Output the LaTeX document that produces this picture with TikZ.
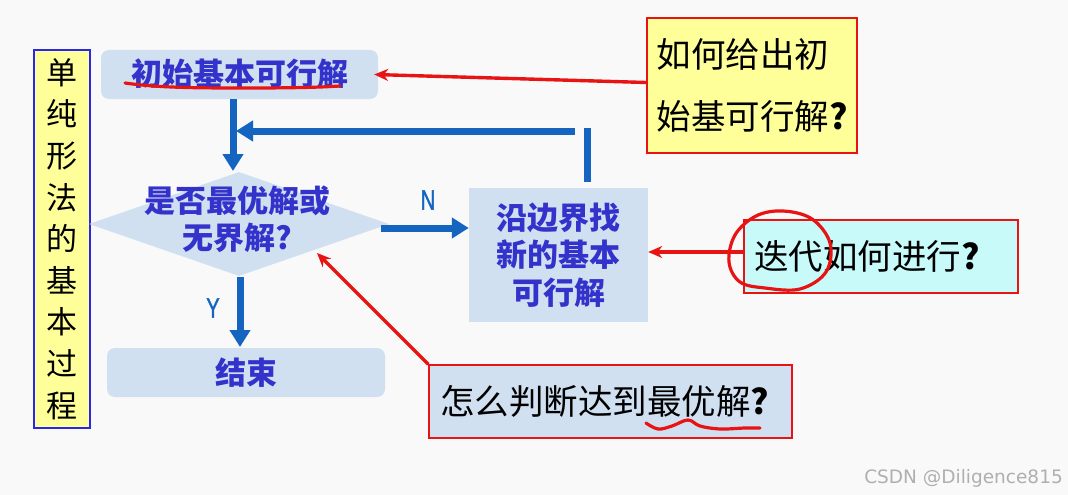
\documentclass[tikz,border=0pt]{standalone}
\usepackage{fontspec}
\setmainfont{Noto Sans CJK SC}
\newfontfamily\latinsans{Liberation Sans}
\newfontfamily\narrowsans[FakeStretch=0.72,FakeBold=1.2]{Liberation Sans}
\newfontfamily\wmsans{DejaVu Sans}
\usetikzlibrary{arrows.meta,shapes.geometric,calc}
\definecolor{bg}{RGB}{249,249,249}
\definecolor{flowfill}{RGB}{208,224,241}
\definecolor{flowtext}{RGB}{51,51,204}
\definecolor{arrowblue}{RGB}{21,101,192}
\definecolor{qred}{RGB}{232,20,20}
\definecolor{yellowfill}{RGB}{255,255,153}
\definecolor{cyanfill}{RGB}{200,250,250}
\definecolor{leftborder}{RGB}{40,40,230}
\definecolor{wm}{RGB}{175,175,175}
\newcommand\flowfont{\fontsize{31}{37.5}\selectfont\bfseries}
\newcommand\qfont{\fontsize{34.5}{62}\selectfont}
\begin{document}
\begin{tikzpicture}[x=1pt,y=-1pt,
  flowbox/.style={fill=flowfill, inner sep=0pt, font=\flowfont, text=flowtext, align=center},
  callout/.style={draw=qred, line width=1.3pt, inner sep=0pt, font=\qfont, text=black},
  barrow/.style={draw=arrowblue, line width=7pt, -{Triangle[length=17pt,width=20pt]}},
  bline/.style={draw=arrowblue, line width=7pt},
  redarrow/.style={draw=qred, line width=3.4pt, -{Stealth[length=14pt,width=12pt]}},
  redpen/.style={draw=qred, line width=3.2pt, line cap=round, line join=round},
  yn/.style={font=\narrowsans\fontsize{28}{30}\selectfont, text=arrowblue, inner sep=0pt}
]
\fill[bg] (0,0) rectangle (1068,495);
\useasboundingbox (0,0) rectangle (1068,495);

% left vertical title
\node[draw=leftborder, line width=1.6pt, fill=yellowfill, minimum width=56pt, minimum height=378pt,
  inner sep=0pt, align=center, font=\fontsize{31}{41.6}\selectfont] (title) at (62,239)
  {单\\纯\\形\\法\\的\\基\\本\\过\\程};

% flow nodes
\node[flowbox, rounded corners=8pt, minimum width=277pt, minimum height=49pt] (start) at (239.5,74.5) {\raisebox{4pt}{初始基本可行解}};
\node[diamond, fill=flowfill, minimum width=300pt, minimum height=104pt, inner sep=0pt] (dec) at (239,224) {};
\node[flowbox, fill=none] (dectext) at (237,219) {是否最优解或\\无界解?};
\node[flowbox, minimum width=179pt, minimum height=134pt] (search) at (558.5,255) {沿边界找\\新的基本\\可行解};
\node[flowbox, rounded corners=8pt, minimum width=278pt, minimum height=49pt] (end) at (246,372.5) {\raisebox{2pt}{结束}};

% flow arrows
\draw[barrow] (start.south -| 233,0) -- (233,171);
\coordinate (fbA) at (587,182);
\coordinate (fbB) at (587,128);
\coordinate (fbC) at (575,131);
\coordinate (fbD) at (236,131);
\draw[bline] (fbA) -- (fbB);
\draw[barrow] (fbC) -- (fbD);
\draw[barrow] (381,228) -- (search.west |- 0,228);
\node[yn] (nlab) at (428,200) {N};
\draw[barrow] (240,277) -- (240,347);
\node[yn] (ylab) at (213,308) {Y};

% callouts
\node[callout, fill=yellowfill, minimum width=210pt, minimum height=135pt, align=left] (q1) at (752,85.5)
  {如何给出初\\始基可行解\textbf{?}};
\node[callout, fill=cyanfill, minimum width=274pt, minimum height=73pt, text width=254pt, align=left] (q2) at (881,256.5)
  {迭代如何进行\textbf{?}};
\node[callout, fill=flowfill, minimum width=363pt, minimum height=73pt, text width=341pt, align=left] (q3) at (610.5,401.5)
  {怎么判断达到最优解\textbf{?}};

% callout arrows
\draw[redarrow] ($(q1.west)+(0,-3)$) -- ($(start.east)+(-4,0)$);
\draw[redarrow] (q2.west |- 0,252) -- (search.east |- 0,252);
\coordinate (dtip) at (317,253);
\draw[redarrow] (q3.north west) -- (dtip);

% hand-drawn marks
\draw[redpen] (125,83) .. controls (160,88) and (200,88) .. (250,88) .. controls (300,88) and (325,87) .. (340,86);
\draw[redpen] plot[smooth cycle, tension=0.6] coordinates {(783,211) (812,219) (830,243) (826,272) (800,289) (765,288) (740,282) (729,262) (735,235) (756,216)};
\draw[redpen] plot[smooth, tension=0.6] coordinates {(646,423) (658,429) (672,426) (688,420) (700,426) (720,429) (745,428) (760,428)};

% watermark
\node[anchor=east, font=\wmsans\fontsize{18.5}{20}\selectfont, text=wm, inner sep=0pt] (wmark) at (1063,478) {CSDN @Diligence815};
\end{tikzpicture}
\end{document}
